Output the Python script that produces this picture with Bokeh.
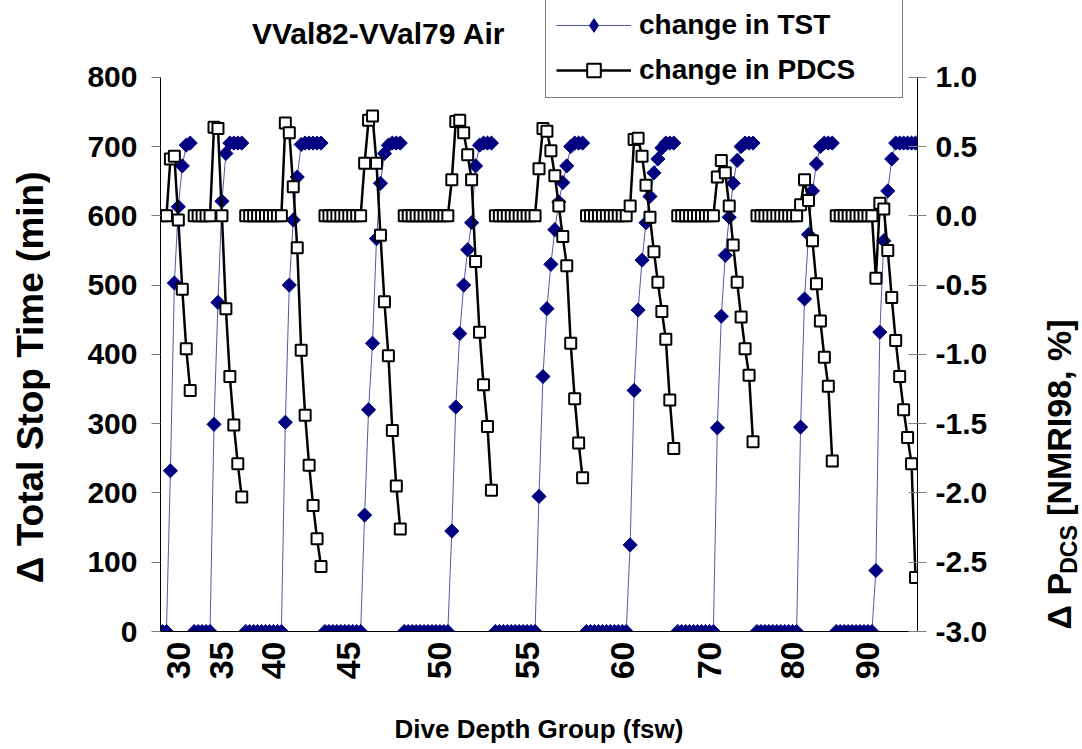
import numpy as np
from math import pi
from bokeh.plotting import figure
from bokeh.layouts import row
from bokeh.models import (Range1d, LinearAxis, FixedTicker, Label, Legend,
                          LegendItem, ColumnDataSource)
from bokeh.core.properties import value
from bokeh.embed import file_html
from bokeh.resources import INLINE

# ---------------- data ----------------
depth_labels = ["30", "35", "40", "45", "50", "55", "60", "70", "80", "90"]
label_index = [4, 15, 28, 47, 70, 92, 116, 138, 159, 178]
zero_counts = [2, 5, 10, 10, 12, 11, 11, 10, 11, 10]

tst_30 = [232, 503, 613, 672, 702, 705]
tst_35 = [299, 475, 621, 690, 705, 705, 705, 705]
tst_40 = [302, 500, 594, 656, 703, 705, 705, 705, 705, 705]
tst_45 = [168, 320, 416, 567, 647, 690, 702, 705, 705, 705]
tst_50 = [145, 324, 430, 500, 551, 590, 672, 702, 705, 705, 705]
tst_55 = [195, 368, 466, 530, 580, 620, 648, 672, 700, 705, 705, 705]
tst_60 = [125, 348, 464, 536, 590, 628, 662, 682, 698, 705, 705, 705]
tst_70 = [294, 455, 543, 598, 647, 680, 700, 705, 705, 705]
tst_80 = [295, 480, 573, 636, 675, 700, 705, 705, 705]
tst_90 = [88, 432, 564, 636, 682, 705, 705, 705, 705, 705, 705]

pdcs_30 = [0.41, 0.43, -0.03, -0.53, -0.96, -1.26]
pdcs_35 = [0.64, 0.63, 0.00, -0.67, -1.16, -1.51, -1.79, -2.03]
pdcs_40 = [0.67, 0.60, 0.21, -0.23, -0.97, -1.44, -1.80, -2.09, -2.33, -2.53]
pdcs_45 = [0.38, 0.69, 0.72, 0.38, -0.14, -0.62, -1.01, -1.55, -1.95, -2.26]
pdcs_50 = [0.26, 0.68, 0.69, 0.60, 0.44, 0.26, -0.33, -0.84, -1.22, -1.52, -1.98]
pdcs_55 = [0.34, 0.63, 0.61, 0.47, 0.29, 0.07, -0.15, -0.36, -0.92, -1.32, -1.64, -1.89]
pdcs_60 = [0.07, 0.55, 0.56, 0.43, 0.22, -0.01, -0.26, -0.48, -0.69, -0.89, -1.33, -1.68]
pdcs_70 = [0.28, 0.40, 0.31, 0.07, -0.21, -0.48, -0.73, -0.96, -1.15, -1.63]
pdcs_80 = [0.08, 0.26, 0.11, -0.18, -0.49, -0.76, -1.02, -1.23, -1.77]
pdcs_90 = [-0.45, 0.09, 0.05, -0.25, -0.59, -0.90, -1.16, -1.40, -1.60, -1.79, -2.61]

tst_ramps = [tst_30, tst_35, tst_40, tst_45, tst_50, tst_55, tst_60, tst_70, tst_80, tst_90]
pdcs_ramps = [pdcs_30, pdcs_35, pdcs_40, pdcs_45, pdcs_50, pdcs_55, pdcs_60, pdcs_70, pdcs_80, pdcs_90]

left_ticks = [0, 100, 200, 300, 400, 500, 600, 700, 800]
right_ticks = [-3.0, -2.5, -2.0, -1.5, -1.0, -0.5, 0.0, 0.5, 1.0]
left_title = "\u0394 Total Stop Time (min)"
right_title_parts = ["\u0394 P", "DCS", "[NMRI98, %]"]

# ---------------- build series (NaN breaks the line between groups) -------
xs, tst, pdcs = [], [], []
idx = 0
for nz, tr, pr in zip(zero_counts, tst_ramps, pdcs_ramps):
    vals_t = [0] * nz + list(tr)
    vals_p = [0.0] * nz + list(pr)
    for vt, vp in zip(vals_t, vals_p):
        xs.append(idx); tst.append(vt); pdcs.append(vp)
        idx += 1
    xs.append(np.nan); tst.append(np.nan); pdcs.append(np.nan)
N = idx
src = ColumnDataSource(dict(x=xs, tst=tst, pdcs=pdcs))

FONT = "Liberation Sans"
NAVY = "#000080"

# geometry (pixels); the frame reaches the canvas top so title/legend fit inside
W_LT, W_MAIN, W_RT, H = 50, 980, 50, 747
BL, BR, BB = 110, 113, 114
frame_h = H - BB                  # 633: frame from canvas top to the x axis
plot_h = 556                      # pixels from 0 to 800 on the left axis
y_top = 800 * frame_h / plot_h
r_top = -3.0 + 4.0 * frame_h / plot_h

p = figure(width=W_MAIN, height=H, output_backend="svg", toolbar_location=None,
           x_range=Range1d(-0.5, N - 0.5), y_range=Range1d(0, y_top),
           min_border_left=BL, min_border_right=BR, min_border_top=0,
           min_border_bottom=BB)
p.extra_y_ranges = {"pdcs": Range1d(-3.0, r_top)}
p.outline_line_color = None
p.xgrid.visible = False
p.ygrid.visible = False

# series
r_tl = p.line("x", "tst", source=src, line_color=NAVY, line_width=0.9, line_alpha=0.75)
r_ts = p.scatter("x", "tst", source=src, marker="square", angle=pi / 4, size=10,
                 fill_color=NAVY, line_color=NAVY, line_width=1)
r_pl = p.line("x", "pdcs", source=src, y_range_name="pdcs", line_color="black", line_width=2.5)
r_ps = p.scatter("x", "pdcs", source=src, y_range_name="pdcs", marker="square", size=11,
                 fill_color="white", line_color="black", line_width=2)
# legend swatch for the diamond (nothing drawn in the plot)
r_leg = p.scatter(x=[np.nan], y=[np.nan], marker="diamond", size=18,
                  fill_color=NAVY, line_color=NAVY)

def style_text(ax, tick_fs, title_fs):
    ax.major_label_text_font = FONT
    ax.major_label_text_font_style = "bold"
    ax.major_label_text_font_size = tick_fs
    ax.major_label_text_color = "black"
    ax.axis_label_text_font = FONT
    ax.axis_label_text_font_style = "bold"
    ax.axis_label_text_font_size = title_fs
    ax.axis_label_text_color = "black"

# bottom axis
xa = p.xaxis[0]
xa.ticker = FixedTicker(ticks=label_index)
xa.major_label_overrides = {i: t for i, t in zip(label_index, depth_labels)}
xa.major_label_orientation = pi / 2
xa.major_tick_in = 0
xa.major_tick_out = 0
xa.minor_tick_line_color = None
xa.axis_line_color = "black"
xa.axis_label = "Dive Depth Group (fsw)"
style_text(xa, "34px", "26px")
xa.major_label_standoff = 10
xa.axis_label_standoff = 32

# left axis (its title is drawn in the companion figure on the left)
ya = p.yaxis[0]
ya.ticker = FixedTicker(ticks=left_ticks)
ya.bounds = (0, 800)
ya.minor_tick_line_color = None
ya.major_tick_in = 0
ya.major_tick_out = 9
ya.major_tick_line_color = "#808080"
ya.axis_line_color = "black"
style_text(ya, "30px", "30px")
ya.major_label_standoff = 14

# right axis
ra = LinearAxis(y_range_name="pdcs", ticker=FixedTicker(ticks=right_ticks), bounds=(-3.0, 1.0))
ra.major_label_overrides = {v: f"{v:.1f}" for v in right_ticks}
ra.minor_tick_line_color = None
ra.major_tick_in = 9
ra.major_tick_out = 9
ra.major_tick_line_color = "#808080"
ra.axis_line_color = "black"
style_text(ra, "30px", "30px")
ra.major_label_standoff = 9
p.add_layout(ra, "right")

# chart title (screen coords measured from the frame's bottom-left)
p.add_layout(Label(x=345, y=598, x_units="screen", y_units="screen",
                   text="VVal82-VVal79 Air", text_font=FONT, text_font_style="bold",
                   text_font_size="30px", text_color="black",
                   text_align="right", text_baseline="middle"))

legend = Legend(items=[LegendItem(label="change in TST", renderers=[r_tl, r_leg]),
                       LegendItem(label="change in PDCS", renderers=[r_pl, r_ps])],
                location=(385, 533), orientation="vertical",
                label_text_font=FONT, label_text_font_style="bold",
                label_text_font_size="28px", label_text_color="black",
                glyph_width=75, glyph_height=34, label_height=34,
                label_standoff=8, padding=10, spacing=11, label_width=253,
                border_line_color="black", border_line_width=1,
                background_fill_color="white", background_fill_alpha=1.0, margin=0)
p.add_layout(legend)

def side_fig(width):
    f = figure(width=width, height=H, output_backend="svg", toolbar_location=None,
               x_range=Range1d(0, width), y_range=Range1d(0, frame_h),
               x_axis_location=None, y_axis_location=None,
               min_border_left=0, min_border_right=0, min_border_top=0,
               min_border_bottom=0)
    f.outline_line_color = None
    f.xgrid.visible = False
    f.ygrid.visible = False
    return f

# left-hand axis title (frame aligned with the main frame: 0 .. frame_h)
lt = side_fig(W_LT)
lt.text(x=[30], y=[frame_h - 378], text=[left_title], angle=pi / 2,
        text_font=value(FONT), text_font_style="bold", text_font_size=value("37px"),
        text_align="center", text_baseline="middle", text_color="black")

# right-hand axis title with subscript
rt = side_fig(W_RT)
main_fs, sub_fs = 34, 23
len_main = (0.70 + 0.278 + 0.667) * main_fs
len_sub = (0.722 + 0.722 + 0.667) * sub_fs
gap = 0.278 * main_fs
y0 = 2
rt.text(x=[28, 38, 28],
        y=[y0, y0 + len_main, y0 + len_main + len_sub + gap],
        text=right_title_parts, angle=pi / 2,
        text_font=value(FONT), text_font_style="bold",
        text_font_size=[f"{main_fs}px", f"{sub_fs}px", f"{main_fs}px"],
        text_align="left", text_baseline="middle", text_color="black")

layout = row(lt, p, rt, spacing=0)
open("out.html", "w").write(file_html(layout, INLINE))
